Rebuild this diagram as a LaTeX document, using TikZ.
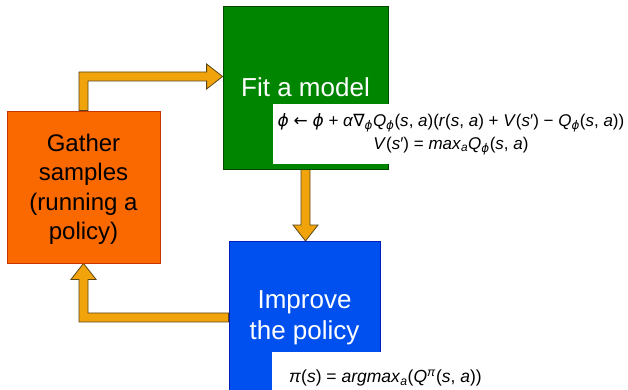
\documentclass[tikz,border=0pt]{standalone}
\usepackage{fontspec}
\setmainfont{Liberation Sans}
\newfontfamily\symfont{DejaVu Sans}
\usetikzlibrary{positioning,backgrounds,calc}
\definecolor{fitcolor}{HTML}{008500}
\definecolor{fitline}{HTML}{004800}
\definecolor{gathcolor}{HTML}{FA6800}
\definecolor{gathline}{HTML}{C73500}
\definecolor{imprcolor}{HTML}{0050EF}
\definecolor{imprline}{HTML}{001DBC}
\definecolor{arrcolor}{HTML}{F0A30A}
\definecolor{arrline}{RGB}{90,70,25}
% italic letter, subscript, superscript, symbol, phi
\newcommand{\vi}[1]{\textit{#1}}
\newcommand{\lo}[1]{\textsubscript{\textit{#1}}}
\newcommand{\hi}[1]{\textsuperscript{\textit{#1}}}
\newcommand{\sy}[1]{{\symfont #1}}
\newcommand{\ph}{{\symfont\itshape ϕ}}

\begin{document}
\begin{tikzpicture}[
  x=1pt, y=-1pt,
  stage/.style    = {rectangle, inner sep=0pt, align=center, line width=0.8pt},
  eqbox/.style    = {rectangle, fill=white, inner sep=0pt, align=center,
                     font=\fontsize{17}{23}\selectfont},
  blockarr/.style = {fill=arrcolor, draw=arrline, line width=0.8pt,
                     line join=miter}
]
\useasboundingbox (0,0) rectangle (628,390);

\node[stage, fill=fitcolor, draw=fitline, minimum width=165pt,
      minimum height=163pt, font=\fontsize{26}{31}\selectfont\color{white}]
      (fit) at (305.5,87.5) {Fit a model};
\node[eqbox, minimum width=356pt, minimum height=59pt] (fiteq) at (451,134)
      {\ph{} \sy{←} \ph{} + \vi{α}\sy{∇}\lo{\ph}\vi{Q}\lo{\ph}(\vi{s}, \vi{a})(\vi{r}(\vi{s}, \vi{a}) + \vi{V}(\vi{s}′) − \vi{Q}\lo{\ph}(\vi{s}, \vi{a}))\\
       \vi{V}(\vi{s}′) = \vi{max}\lo{a}\vi{Q}\lo{\ph}(\vi{s}, \vi{a})};

\node[stage, fill=gathcolor, draw=gathline, minimum width=153pt,
      minimum height=152pt, text depth=0pt, font=\fontsize{24}{29.5}\selectfont]
      (gather) at (83.5,187) {Gather\\samples\\(running a\\policy)};

\node[stage, fill=imprcolor, draw=imprline, minimum width=151pt,
      minimum height=152pt, anchor=north, font=\fontsize{26}{31}\selectfont\color{white}]
      (improve) at (304.5,241) {Improve\\the policy};
\node[eqbox, minimum width=356pt, minimum height=45pt, anchor=north west]
      (impreq) at (272,352) {};
\node[font=\fontsize{17.5}{23}\selectfont, anchor=west, inner sep=0pt]
      (imprmath) at (289,378) {\vi{π}(\vi{s}) = \vi{argmax}\lo{a}(\vi{Q}\hi{π}(\vi{s}, \vi{a}))};

\begin{scope}[on background layer]
  \coordinate (fitin) at ($(fit.west)+(0,-11)$);
  \coordinate (up)    at (gather.north |- fitin);
  \filldraw[blockarr] ($(gather.north)+(-4.5,0)$) -- ($(up)+(-4.5,-4.5)$)
    -- ($(fitin)+(-16,-4.5)$) -- ($(fitin)+(-16,-12.5)$) -- (fitin)
    -- ($(fitin)+(-16,12.5)$) -- ($(fitin)+(-16,4.5)$)
    -- ($(up)+(4.5,4.5)$) -- ($(gather.north)+(4.5,0)$) -- cycle;

  \coordinate (imprin) at (fit.south |- improve.north);
  \filldraw[blockarr] ($(fit.south)+(-4.5,0)$) -- ($(imprin)+(-4.5,-16)$)
    -- ($(imprin)+(-12.5,-16)$) -- (imprin) -- ($(imprin)+(12.5,-16)$)
    -- ($(imprin)+(4.5,-16)$) -- ($(fit.south)+(4.5,0)$) -- cycle;

  \coordinate (back) at (gather.south |- improve.west);
  \filldraw[blockarr] ($(improve.west)+(0,4.5)$) -- ($(back)+(-4.5,4.5)$)
    -- ($(gather.south)+(-4.5,16)$) -- ($(gather.south)+(-12.5,16)$) -- (gather.south)
    -- ($(gather.south)+(12.5,16)$) -- ($(gather.south)+(4.5,16)$)
    -- ($(back)+(4.5,-4.5)$) -- ($(improve.west)+(0,-4.5)$) -- cycle;
\end{scope}
\end{tikzpicture}
\end{document}
